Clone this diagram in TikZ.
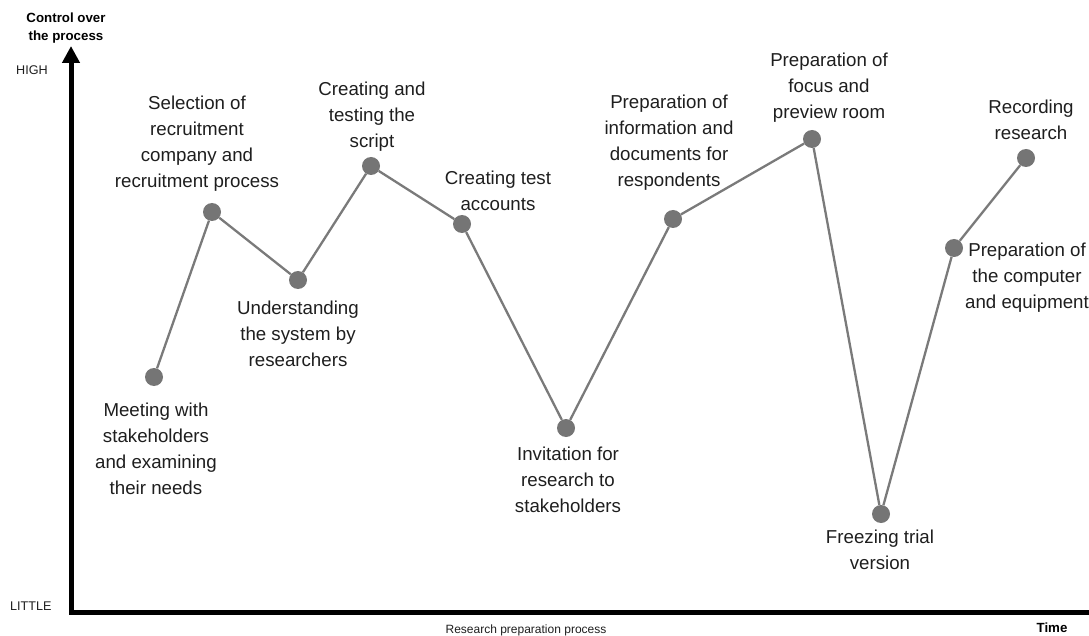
\documentclass[tikz,border=0pt]{standalone}
\usepackage{fontspec}
\setmainfont{Liberation Sans}
\usetikzlibrary{arrows.meta}
\definecolor{dotgray}{HTML}{757575}
\definecolor{linegray}{HTML}{7A7A7A}
\definecolor{txt}{HTML}{1E1E1E}
\begin{document}
\begin{tikzpicture}[x=1pt,y=-1pt,
  dot/.style={circle,fill=dotgray,minimum size=18pt,inner sep=0pt},
  link/.style={linegray,line width=2.3pt},
  lbl/.style={align=center,inner sep=0pt,text=txt,font=\fontsize{18.7}{26}\selectfont},
  axislbl/.style={inner sep=0pt,text=txt,font=\fontsize{12.6}{14}\selectfont},
  axisbold/.style={inner sep=0pt,align=center,text=black,font=\fontsize{13.3}{18}\selectfont\bfseries}]
\useasboundingbox (0,0) rectangle (1089,636);

% axes
\coordinate (top) at (71,46);
\coordinate (origin) at (71,612);
\coordinate (xend) at (1089,612);
\draw[line width=5pt,line join=miter,{Triangle[width=17pt,length=17pt]}-] (top) -- (origin) -- (xend);

\node[axisbold] (ytitle) at (66,28) {Control over\\the process};
\node[axislbl,anchor=west] (high) at (16,70) {HIGH};
\node[axislbl,anchor=west] (little) at (10,606) {LITTLE};
\node[axislbl,font=\fontsize{12}{14}\selectfont] (xtitle) at (526,630) {Research preparation process};
\node[axisbold] (time) at (1052,628) {Time};

% process steps
\node[dot] (p1) at (154,377) {};
\node[dot] (p2) at (212,212) {};
\node[dot] (p3) at (298,280) {};
\node[dot] (p4) at (371,166) {};
\node[dot] (p5) at (462,224) {};
\node[dot] (p6) at (566,428) {};
\node[dot] (p7) at (673,219) {};
\node[dot] (p8) at (812,139) {};
\node[dot] (p9) at (881,514) {};
\node[dot] (p10) at (954,248) {};
\node[dot] (p11) at (1026,158) {};

\draw[link] (p1) -- (p2) -- (p3) -- (p4) -- (p5) -- (p6) -- (p7) -- (p8) -- (p9) -- (p10) -- (p11);

% step labels
\node[lbl] (l1) at (156,449) {Meeting with\\stakeholders\\and examining\\their needs};
\node[lbl] (l2) at (197,144) {Selection of\\recruitment\\company and\\recruitment process};
\node[lbl] (l3) at (298,333.5) {Understanding\\the system by\\researchers};
\node[lbl] (l4) at (372,117) {Creating and\\testing the\\script};
\node[lbl] (l5) at (498,191) {Creating test\\accounts};
\node[lbl] (l6) at (568,480) {Invitation for\\research to\\stakeholders};
\node[lbl] (l7) at (669,142.5) {Preparation of\\information and\\documents for\\respondents};
\node[lbl] (l8) at (829,88) {Preparation of\\focus and\\preview room};
\node[lbl] (l9) at (880,550) {Freezing trial\\version};
\node[lbl] (l10) at (1031,120) {Recording\\research};
\node[lbl] (l11) at (1027,278) {Preparation of\\the computer\\and equipment};
\end{tikzpicture}
\end{document}
